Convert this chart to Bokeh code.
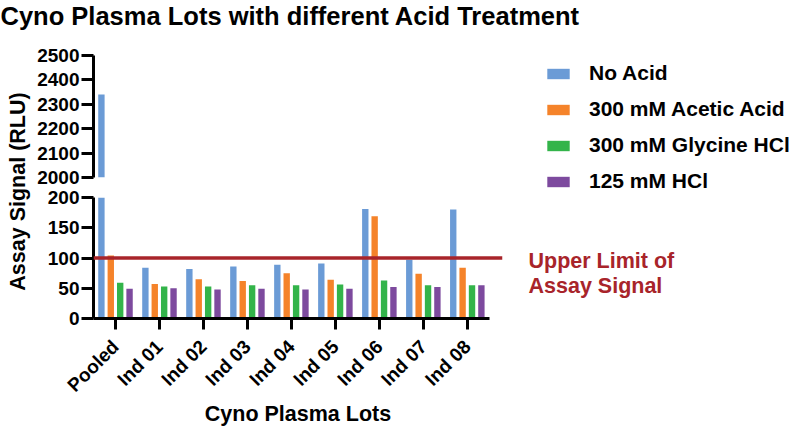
import math
from bokeh.plotting import figure
from bokeh.layouts import column, row
from bokeh.models import Range1d, FixedTicker, Span, Label, Legend, LegendItem
from bokeh.embed import file_html
from bokeh.resources import INLINE

# ---------------- data ----------------
lots = ["Pooled", "Ind 01", "Ind 02", "Ind 03", "Ind 04", "Ind 05", "Ind 06", "Ind 07", "Ind 08"]
series_names = ["No Acid", "300 mM Acetic Acid", "300 mM Glycine HCl", "125 mM HCl"]
no_acid = [2340, 84, 82, 86, 89, 91, 181, 97, 180]
acetic_acid = [104, 57, 65, 62, 75, 64, 169, 74, 84]
glycine_hcl = [59, 53, 53, 55, 55, 56, 63, 55, 55]
hcl_125 = [49, 50, 48, 49, 48, 49, 52, 52, 55]
upper_limit = 100
top_ticks = [2000, 2100, 2200, 2300, 2400, 2500]
bottom_ticks = [0, 50, 100, 150, 200]
top_range = (2000, 2500)
bottom_range = (0, 200)

title_text = "Cyno Plasma Lots with different Acid Treatment"
y_label = "Assay Signal (RLU)"
x_label = "Cyno Plasma Lots"
limit_lines = ["Upper Limit of", "Assay Signal"]

# ---------------- style ----------------
FONT = "Liberation Sans"
colors = ["#6B9BD6", "#F5832A", "#33B44A", "#7D4A9E"]
RED = "#A8242A"
offsets = [-0.32, -0.107, 0.107, 0.32]
bar_w = 0.145

series = [no_acid, acetic_acid, glycine_hcl, hcl_125]
centers = [i + 0.5 for i in range(len(lots))]
x_range = Range1d(0, 9.30)


def blank(p):
    p.axis.visible = False
    p.grid.visible = False
    p.outline_line_color = None
    p.min_border = 0


def style_panel(p, ticks):
    p.grid.visible = False
    p.outline_line_color = None
    ya = p.yaxis[0]
    ya.ticker = FixedTicker(ticks=ticks)
    ya.axis_line_width = 3
    ya.axis_line_color = "black"
    ya.major_tick_line_width = 3
    ya.major_tick_out = 12
    ya.major_tick_in = 0
    ya.minor_tick_line_color = None
    ya.major_label_text_font = FONT
    ya.major_label_text_font_size = "19px"
    ya.major_label_text_font_style = "bold"
    ya.major_label_text_color = "black"
    ya.major_label_standoff = 2


def add_bars(p, lower):
    rs = []
    for vals, off, col in zip(series, offsets, colors):
        pts = [(c + off, v) for c, v in zip(centers, vals) if v > lower]
        r = p.vbar(x=[a for a, _ in pts], top=[b for _, b in pts], bottom=0, width=bar_w,
                   fill_color=col, line_color=None)
        rs.append(r)
    return rs


# title strip
title_fig = figure(width=800, height=30, x_range=Range1d(0, 1), y_range=Range1d(0, 1),
                   toolbar_location=None, output_backend="svg")
blank(title_fig)
title_fig.add_layout(Label(x=0, y=15, x_units="screen", y_units="screen", text=title_text,
                           text_font=FONT, text_font_size="25.5px", text_font_style="bold",
                           text_color="black", text_baseline="middle"))

# y label strip
ylab_fig = figure(width=34, height=399, x_range=Range1d(0, 1), y_range=Range1d(0, 1),
                  toolbar_location=None, output_backend="svg")
blank(ylab_fig)
ylab_fig.add_layout(Label(x=17, y=238, x_units="screen", y_units="screen", text=y_label,
                          angle=math.pi / 2, text_align="center", text_baseline="middle",
                          text_font=FONT, text_font_size="21.5px", text_font_style="bold",
                          text_color="black"))

# top panel (upper part of the broken axis)
top = figure(width=470, height=158, x_range=x_range, y_range=Range1d(*top_range),
             toolbar_location=None, output_backend="svg",
             min_border_left=57, min_border_right=2, min_border_top=25, min_border_bottom=11)
style_panel(top, top_ticks)
top.xaxis.visible = False
add_bars(top, top_range[0])

# bottom panel
bottom = figure(width=470, height=241, x_range=x_range, y_range=Range1d(*bottom_range),
                toolbar_location=None, output_backend="svg",
                min_border_left=57, min_border_right=2, min_border_top=9, min_border_bottom=111)
style_panel(bottom, bottom_ticks)
add_bars(bottom, bottom_range[0] - 1)
xa = bottom.xaxis[0]
xa.ticker = FixedTicker(ticks=centers)
xa.major_label_overrides = {c: lot for c, lot in zip(centers, lots)}
xa.major_label_orientation = math.pi / 4
xa.bounds = (0, len(lots))
xa.axis_line_width = 3
xa.axis_line_color = "black"
xa.major_tick_line_width = 3
xa.major_tick_out = 11
xa.major_tick_in = 0
xa.minor_tick_line_color = None
xa.major_label_text_font = FONT
xa.major_label_text_font_size = "19px"
xa.major_label_text_font_style = "bold"
xa.major_label_text_color = "black"
xa.major_label_standoff = 14
xa.axis_label = x_label
xa.axis_label_text_font = FONT
xa.axis_label_text_font_size = "21.5px"
xa.axis_label_text_font_style = "bold"
xa.axis_label_text_color = "black"
xa.axis_label_standoff = -4

bottom.add_layout(Span(location=upper_limit, dimension="width", line_color=RED, line_width=3.5))

# right strip: legend + limit annotation (legend swatches come from hidden
# renderers of the same series)
right = figure(width=296, height=399, x_range=Range1d(0, 1), y_range=Range1d(0, 1),
               toolbar_location=None, output_backend="svg")
blank(right)
proxies = []
for vals, c in zip(series, colors):
    r = right.vbar(x=centers, top=vals, bottom=0, width=bar_w, fill_color=c, line_color=None)
    r.visible = False
    proxies.append(r)
legend = Legend(items=[LegendItem(label=n, renderers=[r]) for n, r in zip(series_names, proxies)],
                location=(40, 236), orientation="vertical",
                glyph_width=28, glyph_height=13, label_standoff=17, spacing=12,
                padding=0, margin=0, border_line_color=None, background_fill_alpha=0,
                inactive_fill_alpha=0,
                label_text_font=FONT, label_text_font_size="21px", label_text_font_style="bold",
                label_text_color="black", label_height=14)
right.add_layout(legend)
for i, t in enumerate(limit_lines):
    right.add_layout(Label(x=24, y=169 - 25 * i, x_units="screen", y_units="screen", text=t,
                           text_font=FONT, text_font_size="21.5px", text_font_style="bold",
                           text_color=RED, text_baseline="middle"))

layout = column(title_fig, row(ylab_fig, column(top, bottom), right))
open("out.html", "w").write(file_html(layout, INLINE))
